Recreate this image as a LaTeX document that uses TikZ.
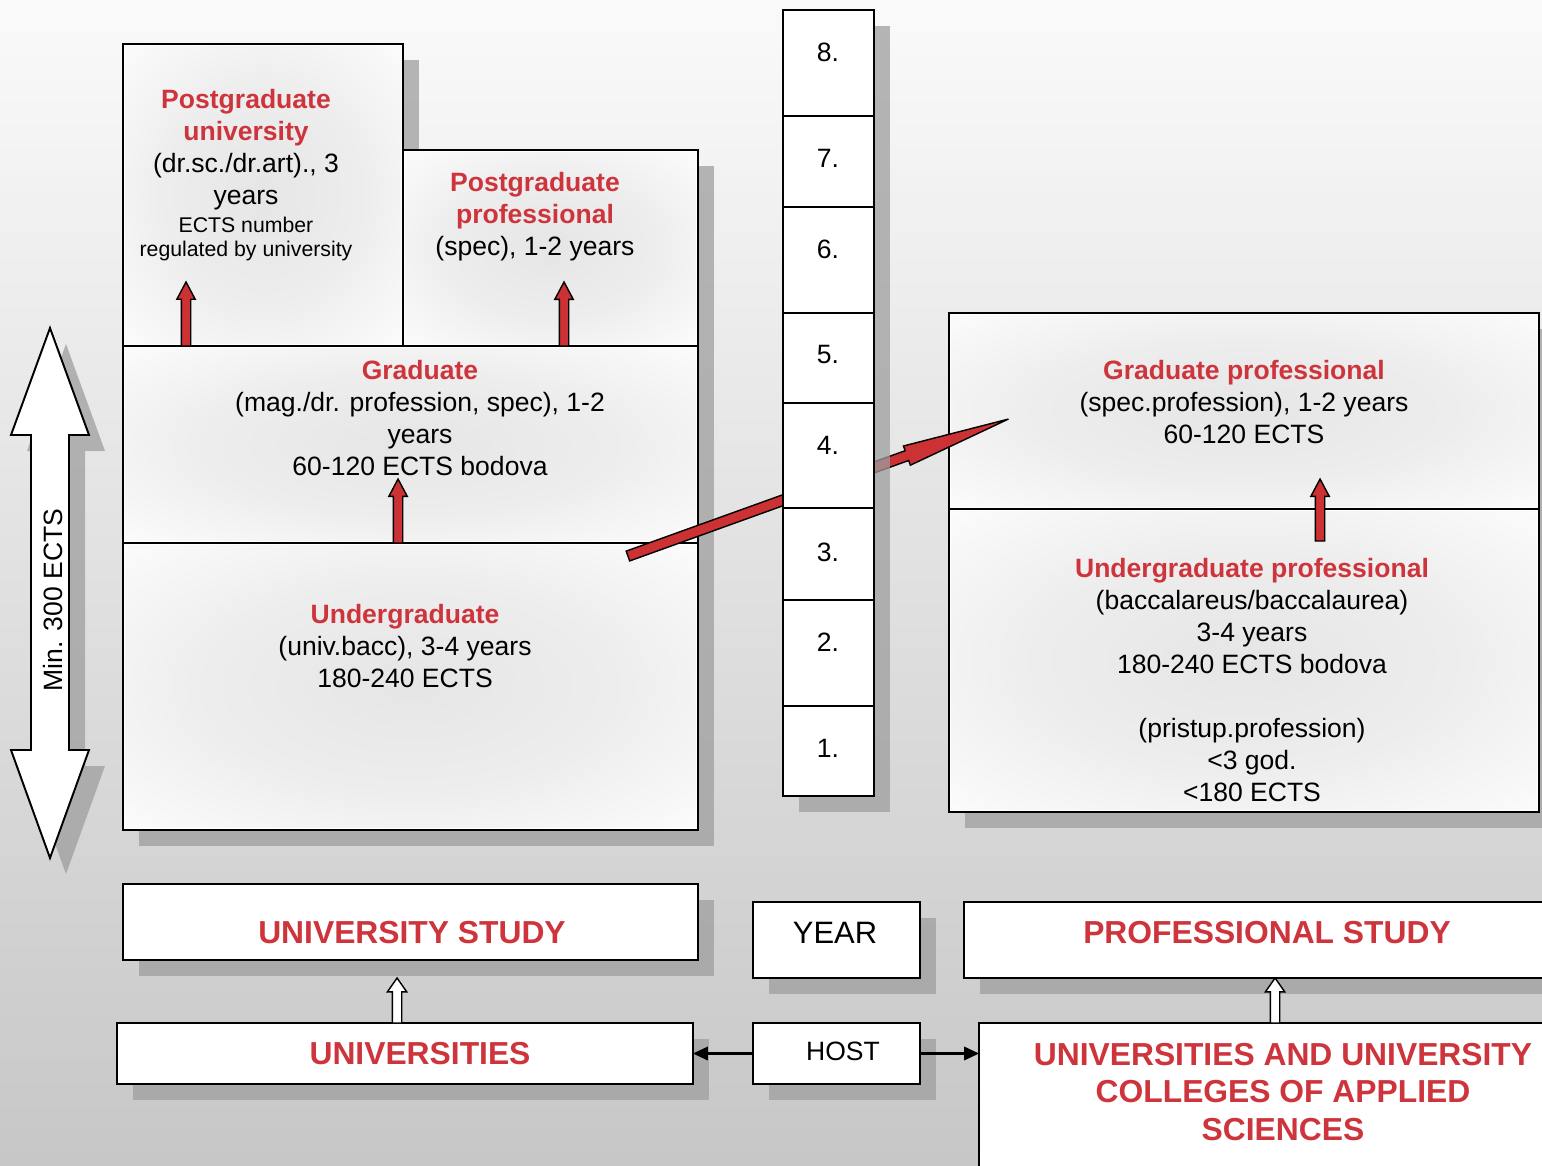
\documentclass[tikz,border=0pt]{standalone}
\usepackage{fontspec}
\setmainfont{Liberation Sans}
\usepackage{tikz}
\usetikzlibrary{calc,shapes.arrows,shadows,arrows.meta}

\definecolor{bolognaRed}{RGB}{206,52,60}
\definecolor{arrowRed}{RGB}{204,50,52}
\pgfdeclareradialshading{boxglow}{\pgfpoint{0bp}{0bp}}{color(0bp)=(black!10); color(18bp)=(black!7); color(40bp)=(white); color(50bp)=(white)}
\newcommand{\redhead}[1]{\textcolor{bolognaRed}{\textbf{#1}}}

\tikzset{
  box/.style={draw, line width=1.1pt, fill=white, inner sep=0pt, outer sep=0pt,
    drop shadow={shadow xshift=0.32cm, shadow yshift=-0.32cm, fill=black!38, opacity=0.75}},
  txt/.style={align=center, inner sep=0pt, font=\fontsize{15.1}{18.2}\selectfont},
  note/.style={align=center, inner sep=0pt, font=\fontsize{12.1}{14.2}\selectfont},
  big/.style={align=center, inner sep=0pt, text=bolognaRed, font=\bfseries\fontsize{18.1}{21.6}\selectfont},
  redup/.style={single arrow, draw=black, line width=0.8pt, fill=arrowRed, inner xsep=0pt, inner ysep=0.08cm,
    outer sep=0pt, single arrow head extend=0.09cm, single arrow tip angle=56, rotate=90, anchor=tail},
  crossarrow/.style={single arrow, draw=black, line width=0.8pt, fill=arrowRed, inner xsep=0pt, inner ysep=0.09cm,
    outer sep=0pt, single arrow head extend=0.1cm, single arrow tip angle=10.8, rotate=19.8, anchor=tail},
  whiteup/.style={single arrow, draw=black, line width=0.8pt, fill=white, inner xsep=0pt, inner ysep=0.08cm,
    outer sep=0pt, single arrow head extend=0.1cm, single arrow tip angle=70, rotate=90, anchor=tail, minimum height=0.9cm},
  hostline/.style={line width=1.2pt, -{Triangle[length=0.3cm, width=0.27cm]}},
}

\begin{document}
\begin{tikzpicture}[x=0.02cm, y=-0.02cm]
  \useasboundingbox (0,0) rectangle (1542,1166);
  \clip (0,0) rectangle (1542,1166);
  \shade[top color=black!2, bottom color=black!22] (0,0) rectangle (1542,1166);

  % min. ECTS double arrow
  \fill[black!38, opacity=0.75, shift={(16,16)}] (50,328) -- (89,435) -- (69,435) -- (69,750) -- (89,750) -- (50,858) -- (11,750) -- (31,750) -- (31,435) -- (11,435) -- cycle;
  \draw[line width=1.1pt, fill=white] (50,328) -- (89,435) -- (69,435) -- (69,750) -- (89,750) -- (50,858) -- (11,750) -- (31,750) -- (31,435) -- (11,435) -- cycle;
  \node[txt, rotate=90] (ectsTxt) at (53,600) {Min. 300 ECTS};

  % university track
  \node[box, minimum width=5.6cm, minimum height=6.04cm] (pgUni) at (263,195) {};
  \node[box, minimum width=5.9cm, minimum height=3.92cm] (pgProf) at (550.5,248) {};
  \node[box, minimum width=11.5cm, minimum height=3.94cm] (grad) at (410.5,444.5) {};
  \node[box, minimum width=11.5cm, minimum height=5.74cm] (undergrad) at (410.5,686.5) {};

  % professional track
  \node[box, minimum width=11.8cm, minimum height=3.92cm] (gradProf) at (1244,411) {};
  \node[box, minimum width=11.8cm, minimum height=6.06cm] (ugProf) at (1244,660.5) {};

  \foreach \b in {pgUni,pgProf,grad,undergrad,gradProf,ugProf}
    \shade[shading=boxglow] ($(\b.north west)+(2,2)$) rectangle ($(\b.south east)+(-2,-2)$);

  \node[txt] (pgUniTxt) at (246,150) {\redhead{Postgraduate}\\\redhead{university}\\(dr.sc./dr.art)., 3\\years};
  \node[note] (pgUniNote) at (246,239) {ECTS number\\regulated by university};
  \node[txt] (pgProfTxt) at (535,217) {\redhead{Postgraduate}\\\redhead{professional}\\(spec), 1-2 years};
  \node[txt] (gradTxt) at (420,418) {\redhead{Graduate}\\(mag./dr. profession, spec), 1-2\\years\\60-120 ECTS bodova};
  \node[txt] (ugTxt) at (405,646) {\redhead{Undergraduate}\\(univ.bacc), 3-4 years\\180-240 ECTS};
  \node[txt] (gradProfTxt) at (1244,402) {\redhead{Graduate professional}\\(spec.profession), 1-2 years\\60-120 ECTS};
  \node[txt] (ugProfTxt) at (1252,680) {\redhead{Undergraduate professional}\\(baccalareus/baccalaurea)\\3-4 years\\180-240 ECTS bodova\\[18.2pt](pristup.profession)\\<3 god.\\<180 ECTS};

  \node[redup, minimum height=1.28cm] (upPgUni) at ($(pgUni.south west)+(63,0)$) {};
  \node[redup, minimum height=1.28cm] (upPgProf) at ($(pgProf.south west)+(161,0)$) {};
  \node[redup, minimum height=1.28cm] (upGrad) at ($(undergrad.north west)+(275,0)$) {};
  \node[redup, minimum height=1.24cm] (upGradProf) at ($(ugProf.north west)+(371,32)$) {};

  \node[crossarrow, minimum height=8.09cm] (toProf) at ($(undergrad.north east)+(-70,13)$) {};

  % year column
  \foreach \n/\c/\h/\t in {8/63/2.12/52, 7/161.5/1.82/158, 6/260/2.12/249, 5/358/1.8/355,
                           4/455.5/2.1/445, 3/554/1.84/552, 2/653/2.12/642, 1/751/1.8/748}{
    \node[box, minimum width=1.82cm, minimum height=\h cm] (yr\n) at (828.5,\c) {};
    \node[txt] (yrTxt\n) at (828,\t) {\n.};
  }

  % bottom row
  \node[box, minimum width=11.5cm, minimum height=1.52cm] (uniStudy) at (410.5,922) {};
  \node[big] (uniStudyTxt) at (412,933) {UNIVERSITY STUDY};
  \node[box, minimum width=3.34cm, minimum height=1.52cm] (year) at (836.5,940) {};
  \node[txt, font=\fontsize{17.6}{21}\selectfont] (yearTxt) at (835,933) {YEAR};
  \node[box, minimum width=12.14cm, minimum height=1.52cm] (profStudy) at (1267.5,940) {};
  \node[big] (profStudyTxt) at (1267,933) {PROFESSIONAL STUDY};

  \node[box, minimum width=11.52cm, minimum height=1.22cm] (univs) at (405,1053.5) {};
  \node[big] (univsTxt) at (420,1054) {UNIVERSITIES};
  \node[box, minimum width=3.34cm, minimum height=1.22cm] (host) at (836.5,1053.5) {};
  \node[txt] (hostTxt) at (843,1051) {HOST};
  \node[box, minimum width=12.16cm, minimum height=3.32cm] (uas) at (1283,1106) {};
  \node[big] (uasTxt) at (1283,1092) {UNIVERSITIES AND UNIVERSITY\\COLLEGES OF APPLIED\\SCIENCES};

  \draw[hostline] (host.west) -- (univs.east);
  \draw[hostline] (host.east) -- (host.east -| uas.west);
  \node[whiteup] (upUni) at ($(univs.north west)+(280,0)$) {};
  \node[whiteup] (upUas) at ($(uas.north west)+(296,0)$) {};
\end{tikzpicture}
\end{document}
